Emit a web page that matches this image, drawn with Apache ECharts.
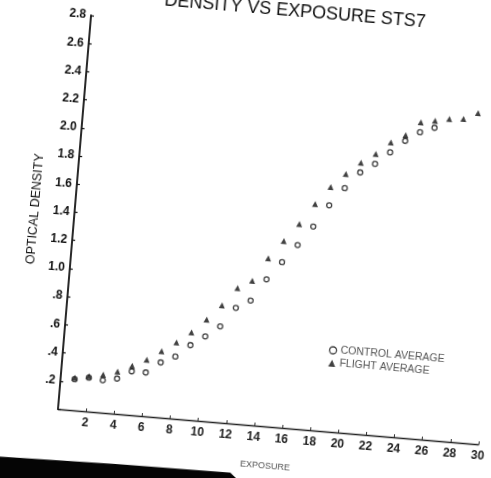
<!DOCTYPE html>
<html>
<head>
<meta charset="utf-8">
<script src="https://cdn.jsdelivr.net/npm/echarts@6/dist/echarts.min.js"></script>
<style>
  html, body { margin: 0; padding: 0; background: #fff; }
  body { width: 491px; height: 478px; overflow: hidden; position: relative; }
  /* the printed sheet sits slightly turned on the page */
  #chart {
    position: absolute; left: -30px; top: -30px;
    width: 560px; height: 560px;
    transform-origin: 88px 439px;
    transform: rotate(4.8deg);
  }
</style>
</head>
<body>
<div id="chart"></div>
<script>
// Exposure steps (x) and averaged optical density readings (y)
const flightExposure = [1, 2, 3, 4, 5, 6, 7, 8, 9, 10, 11, 12, 13, 14,
                        15, 16, 17, 18, 19, 20, 21, 22, 23, 24, 25, 26, 27, 28];
const flightDensity  = [0.23, 0.25, 0.27, 0.30, 0.35, 0.40, 0.47, 0.54, 0.62, 0.72,
                        0.83, 0.96, 1.02, 1.19, 1.32, 1.45, 1.60, 1.73, 1.83, 1.92,
                        1.99, 2.08, 2.14, 2.24, 2.26, 2.28, 2.29, 2.34];

const controlExposure = [1, 2, 3, 4, 5, 6, 7, 8, 9, 10, 11, 12, 13,
                         14, 15, 16, 17, 18, 19, 20, 21, 22, 23, 24, 25];
const controlDensity  = [0.22, 0.24, 0.23, 0.25, 0.31, 0.31, 0.39, 0.44, 0.53, 0.60,
                         0.68, 0.82, 0.88, 1.04, 1.17, 1.30, 1.44, 1.60, 1.73, 1.85,
                         1.92, 2.01, 2.10, 2.17, 2.21];

const xTicks = { min: 0, max: 30, step: 2 };
const yTicks = { min: 0, max: 2.8, step: 0.2 };

const titleText = 'DENSITY VS EXPOSURE STS7';
const xName = 'EXPOSURE';
const yName = 'OPTICAL DENSITY';
const controlName = 'CONTROL AVERAGE';
const flightName = 'FLIGHT AVERAGE';

const pairs = (xs, ys) => xs.map((x, i) => [x, ys[i]]);

const FONT = '"Liberation Sans", Arial, sans-serif';
const INK = '#111';

const chart = echarts.init(document.getElementById('chart'), null, { renderer: 'canvas' });

chart.setOption({
  backgroundColor: 'transparent',
  animation: false,
  grid: { left: 88, top: 44, width: 422, height: 395, containLabel: false },
  xAxis: {
    type: 'value',
    min: xTicks.min, max: xTicks.max, interval: xTicks.step,
    name: xName, nameLocation: 'middle', nameGap: 35,
    nameTextStyle: { fontFamily: FONT, fontSize: 9, color: '#555' },
    axisLine: { show: true, onZero: false, lineStyle: { color: '#222', width: 1.4 } },
    axisTick: { show: true, inside: true, length: 3, lineStyle: { color: '#333' } },
    axisLabel: {
      margin: 6, fontFamily: FONT, fontSize: 12, fontWeight: 'bold', color: '#222',
      formatter: v => (v === 0 ? '' : String(v))
    },
    splitLine: { show: false }
  },
  yAxis: {
    type: 'value',
    min: yTicks.min, max: yTicks.max, interval: yTicks.step,
    name: yName, nameLocation: 'middle', nameGap: 27, nameRotate: 90,
    nameTextStyle: { fontFamily: FONT, fontSize: 12.5, color: INK },
    axisLine: { show: true, onZero: false, lineStyle: { color: INK, width: 1.8 } },
    axisTick: { show: true, inside: true, length: 3, lineStyle: { color: INK, width: 1.2 } },
    axisLabel: {
      margin: 5, fontFamily: FONT, fontSize: 12, fontWeight: 'bold', color: INK,
      formatter: v => {
        if (v === 0) return '';
        const s = v.toFixed(1);
        return v < 1 ? s.slice(1) : s;
      }
    },
    splitLine: { show: false }
  },
  legend: {
    orient: 'vertical',
    left: 353, top: 352,
    itemWidth: 7, itemHeight: 7, itemGap: 2,
    padding: 0,
    textStyle: { fontFamily: FONT, fontSize: 10.5, color: '#555', padding: [0, 0, 0, -1] },
    data: [
      { name: controlName, icon: 'circle',
        itemStyle: { color: '#fff', borderColor: INK, borderWidth: 1.3 } },
      { name: flightName, icon: 'triangle',
        itemStyle: { color: INK } }
    ]
  },
  graphic: [
    {
      type: 'text', x: 291, y: 23,
      style: {
        text: titleText, align: 'center', verticalAlign: 'middle',
        font: '18px ' + FONT, fill: INK
      }
    },
    {
      // dark margin band along the lower edge of the sheet
      type: 'polygon',
      shape: { points: [[0, 492], [150, 489], [265, 488], [281, 501], [281, 560], [0, 560]] },
      style: { fill: '#050505' },
      z: 10
    }
  ],
  series: [
    {
      name: controlName,
      type: 'scatter',
      data: pairs(controlExposure, controlDensity),
      symbol: 'circle',
      symbolSize: 5,
      itemStyle: { color: '#fff', borderColor: INK, borderWidth: 1.3 },
      z: 3
    },
    {
      name: flightName,
      type: 'scatter',
      data: pairs(flightExposure, flightDensity),
      symbol: 'triangle',
      symbolSize: 6,
      itemStyle: { color: INK },
      z: 4
    }
  ]
});
</script>
</body>
</html>
